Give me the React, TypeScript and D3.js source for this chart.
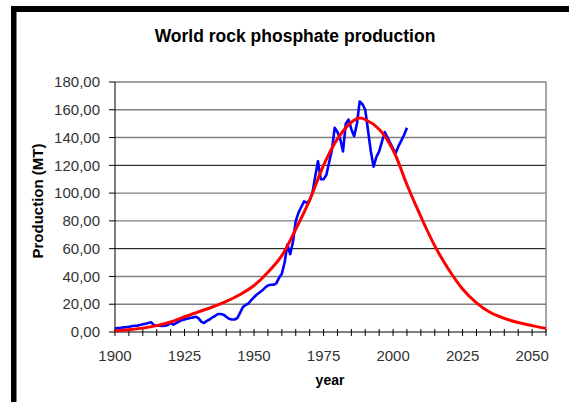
import React from "react";
import * as d3 from "d3";

const blueYears = d3.range(1900, 2006);
const blueValues = [
  2.5, 2.8, 3.0, 3.3, 3.5, 3.8, 4.2, 4.5, 4.6, 5.0,
  5.5, 6.0, 6.5, 7.0, 5.0, 4.5, 4.6, 4.4, 4.5, 5.0,
  6.5, 5.2, 6.5, 7.5, 8.5, 9.0, 9.5, 10.0, 10.5, 11.0,
  10.0, 7.5, 6.5, 8.0, 9.0, 10.5, 11.5, 13.0, 13.0, 12.5,
  11.0, 9.5, 9.0, 9.0, 10.0, 14.0, 18.0, 19.5, 20.5, 23,
  25, 27, 28.5, 30, 32, 33.5, 34, 34, 35, 39,
  42, 50, 63, 56, 65, 80, 86, 90, 94, 93,
  95, 100, 112, 123, 110, 110, 113, 122, 131, 147,
  144, 139, 130, 150, 153, 146, 141, 150, 166, 164,
  160, 145, 130, 119, 126, 130, 137, 144, 140, 136,
  132, 129, 134, 138, 142, 147,
];

const redYears = [
  1900, 1905, 1910, 1915, 1920, 1925, 1930, 1935, 1940, 1945, 1950, 1955,
  1960, 1965, 1970, 1975, 1980, 1985, 1988, 1990, 1995, 2000, 2005, 2010,
  2015, 2020, 2025, 2030, 2035, 2040, 2045, 2050, 2055,
];
const redValues = [
  0.8, 1.6, 2.8, 4.6, 7.2, 11, 14.5, 18, 22, 27, 33.5, 43,
  55, 74, 95, 120, 139, 151, 154, 153, 146, 131, 106, 83,
  62, 45, 31, 21, 14, 9.8, 6.8, 4.6, 2.6,
];

const yTicks = [0, 20, 40, 60, 80, 100, 120, 140, 160, 180];
const xLabelTicks = [1900, 1925, 1950, 1975, 2000, 2025, 2050];
const xMinorTicks = d3.range(1900, 2056, 5);

const FONT = "'Liberation Sans', Arial, sans-serif";

export default function App() {
  const x = d3.scaleLinear().domain([1900, 2055]).range([115, 546]);
  const y = d3.scaleLinear().domain([0, 180]).range([332, 82]);

  const blueLine = d3
    .line<number>()
    .x((_, i) => x(blueYears[i]))
    .y((d) => y(d))
    .curve(d3.curveLinear)(blueValues);

  const redLine = d3
    .line<number>()
    .x((_, i) => x(redYears[i]))
    .y((d) => y(d))
    .curve(d3.curveCatmullRom)(redValues);

  const fmt = (v: number) => d3.format(".2f")(v).replace(".", ",");

  return (
    <svg
      width={569}
      height={402}
      style={{ position: "absolute", left: 0, top: 0, background: "#fff" }}
    >
      <rect x={0} y={0} width={569} height={402} fill="#fff" />
      {/* black frame */}
      <rect x={11} y={6} width={558} height={6} fill="#000" />
      <rect x={11} y={6} width={5.5} height={396} fill="#000" />

      <text
        x={295}
        y={42}
        textAnchor="middle"
        fontFamily={FONT}
        fontWeight="bold"
        fontSize={17.5}
      >
        World rock phosphate production
      </text>

      {/* gridlines */}
      {yTicks.slice(1).map((v) => (
        <line
          key={"g" + v}
          x1={x(1900)}
          x2={x(2055)}
          y1={y(v)}
          y2={y(v)}
          stroke={v === 60 || v === 120 ? "#000" : "#808080"}
          strokeWidth={v === 60 || v === 120 ? 1 : 1.4}
        />
      ))}
      {/* right border */}
      <line x1={x(2055)} x2={x(2055)} y1={y(180)} y2={y(0)} stroke="#808080" strokeWidth={1.4} />

      {/* y axis */}
      <line x1={x(1900)} x2={x(1900)} y1={y(180)} y2={y(0)} stroke="#000" strokeWidth={1} />
      {yTicks.map((v) => (
        <g key={"y" + v}>
          <line x1={109} x2={x(1900)} y1={y(v)} y2={y(v)} stroke="#000" strokeWidth={1} />
          <text
            x={100}
            y={y(v)}
            dy="0.35em"
            textAnchor="end"
            fontFamily={FONT}
            fontSize={15}
            fill="#333"
          >
            {fmt(v)}
          </text>
        </g>
      ))}

      {/* x axis */}
      <line x1={x(1900)} x2={x(2055)} y1={y(0)} y2={y(0)} stroke="#000" strokeWidth={1.2} />
      {xMinorTicks.map((v) => (
        <line key={"t" + v} x1={x(v)} x2={x(v)} y1={y(0) - 3} y2={y(0) + 4} stroke="#000" strokeWidth={1} />
      ))}
      {xLabelTicks.map((v) => (
        <text
          key={"xl" + v}
          x={x(v)}
          y={361}
          textAnchor="middle"
          fontFamily={FONT}
          fontSize={15}
          fill="#333"
        >
          {v}
        </text>
      ))}

      <text
        x={330}
        y={385}
        textAnchor="middle"
        fontFamily={FONT}
        fontWeight="bold"
        fontSize={14}
      >
        year
      </text>
      <text
        transform={`translate(43,${201}) rotate(-90)`}
        textAnchor="middle"
        fontFamily={FONT}
        fontWeight="bold"
        fontSize={15}
      >
        Production (MT)
      </text>

      <path d={blueLine || ""} fill="none" stroke="#0000ff" strokeWidth={2.6} strokeLinejoin="round" />
      <path d={redLine || ""} fill="none" stroke="#ff0000" strokeWidth={3} strokeLinejoin="round" />
    </svg>
  );
}
